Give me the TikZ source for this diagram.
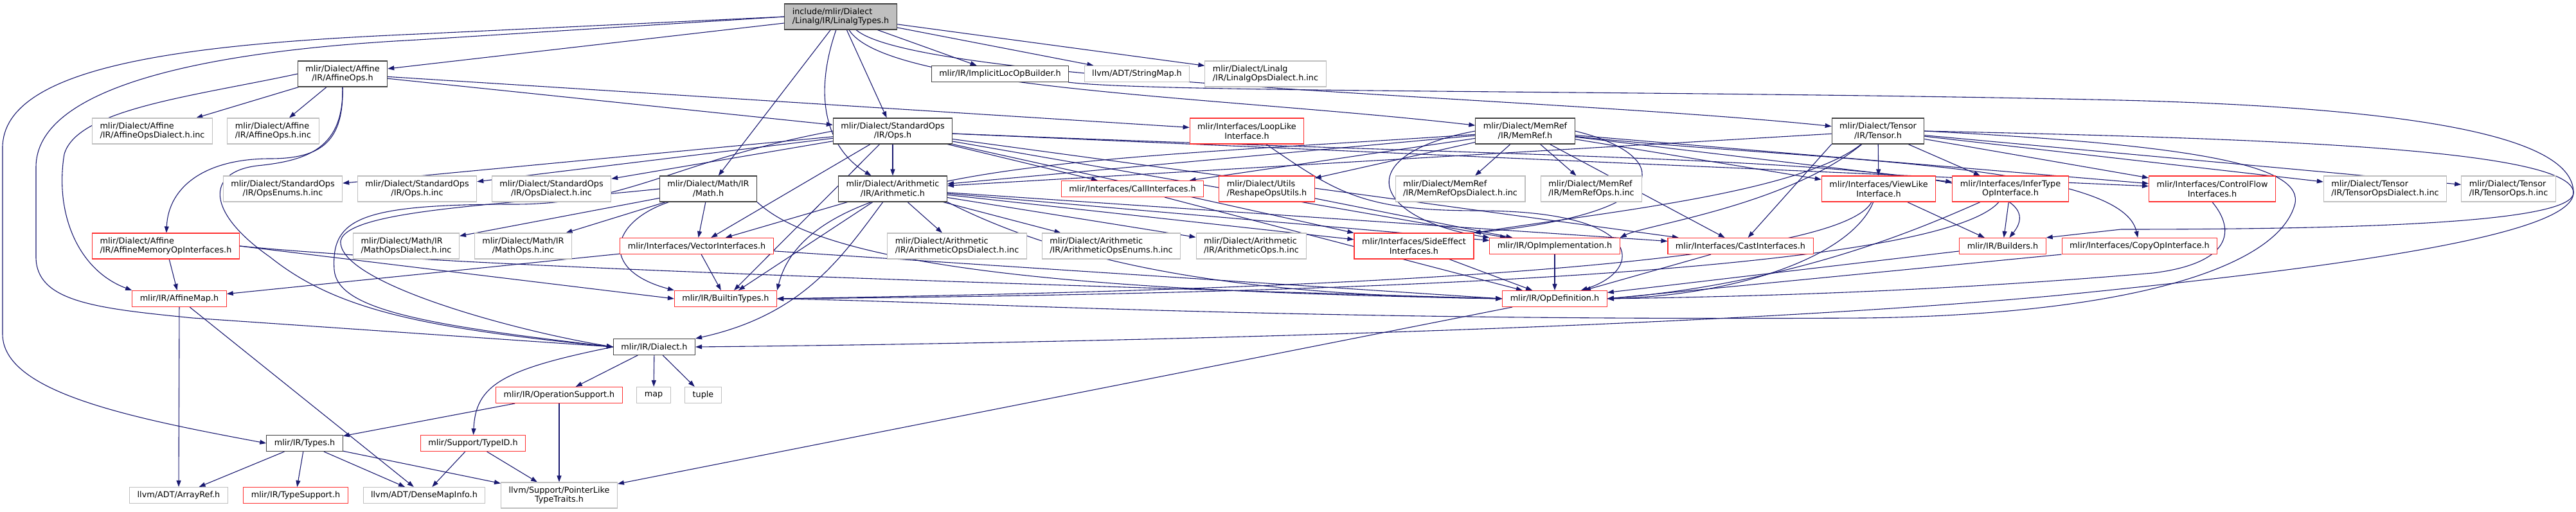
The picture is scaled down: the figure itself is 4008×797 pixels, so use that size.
\documentclass[tikz,border=0pt]{standalone}
\usepackage{fontspec}
\setmainfont{DejaVu Sans}
\usepackage{xcolor}
\usepackage{tikz}
\usetikzlibrary{arrows.meta}
\usetikzlibrary{backgrounds}
\definecolor{edgeblue}{HTML}{191970}
\definecolor{boxgray}{HTML}{BFBFBF}
\definecolor{boxred}{HTML}{FF3030}
\definecolor{boxdark}{HTML}{404040}

\begin{document}
\begin{tikzpicture}[x=1pt,y=-1pt,
  hdr/.style={rectangle,draw,fill=white,line width=1.1pt,align=center,
    inner xsep=12pt,inner ysep=2pt,minimum height=25pt,
    font=\fontsize{12.8pt}{14.7pt}\selectfont},
  twoline/.style={minimum height=40pt},
  lft/.style={align=left},
  hdrroot/.style={draw=boxdark,fill=boxgray},
  hdrdoc/.style={draw=boxdark},
  hdrext/.style={draw=boxgray},
  hdrred/.style={draw=boxred},
  dep/.style={draw=edgeblue,line width=1.1pt,-{Triangle[length=10pt,width=7pt]}}]
\useasboundingbox (0,0) rectangle (4008,797);
% the file itself
\node[hdr,hdrroot,twoline,lft] (root) at (1308,26) {include/mlir/Dialect\\/Linalg/IR/LinalgTypes.h};
% first level
\node[hdr,hdrdoc,twoline] (affops) at (533,115) {mlir/Dialect/Affine\\/IR/AffineOps.h};
\node[hdr,hdrdoc] (implicit) at (1556,115) {mlir/IR/ImplicitLocOpBuilder.h};
\node[hdr,hdrext] (strmap) at (1769,115) {llvm/ADT/StringMap.h};
\node[hdr,hdrext,twoline,lft] (linalgdia) at (1969,115) {mlir/Dialect/Linalg\\/IR/LinalgOpsDialect.h.inc};
\node[hdr,hdrext,twoline,lft] (affdiainc) at (237,204) {mlir/Dialect/Affine\\/IR/AffineOpsDialect.h.inc};
\node[hdr,hdrext,twoline,lft] (affopsinc) at (425,204) {mlir/Dialect/Affine\\/IR/AffineOps.h.inc};
\node[hdr,hdrdoc,twoline] (stdops) at (1389,204) {mlir/Dialect/StandardOps\\/IR/Ops.h};
\node[hdr,hdrred,twoline] (looplike) at (1940,204) {mlir/Interfaces/LoopLike\\Interface.h};
\node[hdr,hdrdoc,twoline] (memref) at (2373,204) {mlir/Dialect/MemRef\\/IR/MemRef.h};
\node[hdr,hdrdoc,twoline] (tensor) at (2922,204) {mlir/Dialect/Tensor\\/IR/Tensor.h};
% dialect includes
\node[hdr,hdrext,twoline] (opsenums) at (440,294) {mlir/Dialect/StandardOps\\/IR/OpsEnums.h.inc};
\node[hdr,hdrext,twoline] (opsinc) at (649,294) {mlir/Dialect/StandardOps\\/IR/Ops.h.inc};
\node[hdr,hdrext,twoline] (opsdialect) at (858,294) {mlir/Dialect/StandardOps\\/IR/OpsDialect.h.inc};
\node[hdr,hdrdoc,twoline] (math) at (1102,294) {mlir/Dialect/Math/IR\\/Math.h};
\node[hdr,hdrdoc,twoline] (arith) at (1389,294) {mlir/Dialect/Arithmetic\\/IR/Arithmetic.h};
\node[hdr,hdrred] (callif) at (1762,294) {mlir/Interfaces/CallInterfaces.h};
\node[hdr,hdrred,twoline,lft] (reshape) at (1971,294) {mlir/Dialect/Utils\\/ReshapeOpsUtils.h};
\node[hdr,hdrext,twoline,lft] (memrefdia) at (2272,294) {mlir/Dialect/MemRef\\/IR/MemRefOpsDialect.h.inc};
\node[hdr,hdrext,twoline,lft] (memrefops) at (2476,294) {mlir/Dialect/MemRef\\/IR/MemRefOps.h.inc};
\node[hdr,hdrred,twoline] (viewlike) at (2923,294) {mlir/Interfaces/ViewLike\\Interface.h};
\node[hdr,hdrred,twoline] (infertype) at (3128,294) {mlir/Interfaces/InferType\\OpInterface.h};
\node[hdr,hdrred,twoline] (ctrlflow) at (3442,294) {mlir/Interfaces/ControlFlow\\Interfaces.h};
\node[hdr,hdrext,twoline,lft] (tensordia) at (3711,294) {mlir/Dialect/Tensor\\/IR/TensorOpsDialect.h.inc};
\node[hdr,hdrext,twoline,lft] (tensorops) at (3903,294) {mlir/Dialect/Tensor\\/IR/TensorOps.h.inc};
% interfaces
\node[hdr,hdrred,twoline,lft] (affmem) at (258,383) {mlir/Dialect/Affine\\/IR/AffineMemoryOpInterfaces.h};
\node[hdr,hdrext,twoline,lft] (mathdia) at (632,383) {mlir/Dialect/Math/IR\\/MathOpsDialect.h.inc};
\node[hdr,hdrext,twoline] (mathops) at (814,383) {mlir/Dialect/Math/IR\\/MathOps.h.inc};
\node[hdr,hdrred] (vectorif) at (1084,383) {mlir/Interfaces/VectorInterfaces.h};
\node[hdr,hdrext,twoline,lft] (aritdia) at (1489,383) {mlir/Dialect/Arithmetic\\/IR/ArithmeticOpsDialect.h.inc};
\node[hdr,hdrext,twoline,lft] (aritenum) at (1729,383) {mlir/Dialect/Arithmetic\\/IR/ArithmeticOpsEnums.h.inc};
\node[hdr,hdrext,twoline,lft] (aritops) at (1947,383) {mlir/Dialect/Arithmetic\\/IR/ArithmeticOps.h.inc};
\node[hdr,hdrred,twoline] (sideeff) at (2200,383) {mlir/Interfaces/SideEffect\\Interfaces.h};
\node[hdr,hdrred] (opimpl) at (2419,383) {mlir/IR/OpImplementation.h};
\node[hdr,hdrred] (castif) at (2708,383) {mlir/Interfaces/CastInterfaces.h};
\node[hdr,hdrred] (builders) at (3116,383) {mlir/IR/Builders.h};
\node[hdr,hdrred] (copyop) at (3329,383) {mlir/Interfaces/CopyOpInterface.h};
% core IR
\node[hdr,hdrred] (affmap) at (279,465) {mlir/IR/AffineMap.h};
\node[hdr,hdrred] (builtin) at (1129,465) {mlir/IR/BuiltinTypes.h};
\node[hdr,hdrred] (opdef) at (2419,465) {mlir/IR/OpDefinition.h};
\node[hdr,hdrdoc] (dialect) at (1018,540) {mlir/IR/Dialect.h};
\node[hdr,hdrred] (opsupport) at (870,615) {mlir/IR/OperationSupport.h};
\node[hdr,hdrext] (map) at (1017,615) {map};
\node[hdr,hdrext] (tuple) at (1094,615) {tuple};
\node[hdr,hdrdoc] (types) at (474,690) {mlir/IR/Types.h};
\node[hdr,hdrred] (typeid) at (736,690) {mlir/Support/TypeID.h};
\node[hdr,hdrext] (arrayref) at (278,771) {llvm/ADT/ArrayRef.h};
\node[hdr,hdrred] (typesupport) at (460,771) {mlir/IR/TypeSupport.h};
\node[hdr,hdrext] (densemap) at (660,771) {llvm/ADT/DenseMapInfo.h};
\node[hdr,hdrext,twoline] (ptrlike) at (870,771) {llvm/Support/PointerLike\\TypeTraits.h};

\begin{scope}[on background layer]
% from the file itself
\draw[dep] (root) -- (affops);
\draw[dep] (root) -- (implicit);
\draw[dep] (root) -- (strmap);
\draw[dep] (root) -- (linalgdia);
\draw[dep] (root) -- (stdops);
\draw[dep] (root) -- (math);
\draw[dep] (root) .. controls (1265,150) and (1285,230) .. (arith);
\draw[dep] (root) .. controls (1380,140) and (1900,150) .. (memref);
\draw[dep] (root) .. controls (1430,130) and (2400,150) .. (tensor);
\draw[dep] (root.west) -- (650,53) .. controls (300,68) and (4,100) .. (4,230) -- (4,520) .. controls (4,610) and (200,650) .. (types.west);
\draw[dep] (root.west) -- (650,62) .. controls (300,80) and (56,140) .. (56,260) -- (56,400) .. controls (56,470) and (150,480) .. (300,495) -- (dialect.west);
% affine
\draw[dep] (affops) -- (affdiainc);
\draw[dep] (affops) -- (affopsinc);
\draw[dep] (affops) -- (stdops);
\draw[dep] (affops) -- (looplike);
\draw[dep] (affops.south) .. controls (535,220) and (500,247) .. (420,247) .. controls (320,247) and (262,290) .. (affmem);
\draw[dep] (affops.west) .. controls (300,150) and (120,170) .. (100,240) .. controls (85,330) and (120,420) .. (affmap.north west);
\draw[dep] (affops.south) .. controls (535,230) and (480,250) .. (400,258) .. controls (320,268) and (320,330) .. (420,400) .. controls (520,480) and (650,510) .. (dialect.west);
\draw[dep] (implicit) .. controls (1800,145) and (2600,140) .. (3300,156) .. controls (3850,170) and (4004,230) .. (4004,300) .. controls (4004,345) and (3700,357) .. (3300,357) -- (builders.north east);
% standard ops
\draw[dep] (stdops) -- (opsenums);
\draw[dep] (stdops) -- (opsinc);
\draw[dep] (stdops) -- (opsdialect);
\draw[dep] (stdops) -- (arith);
\draw[dep] (stdops) -- (callif);
\draw[dep] (stdops) -- (vectorif);
\draw[dep] (stdops) -- (ctrlflow);
\draw[dep] (stdops) -- (castif);
\draw[dep] (stdops) -- (sideeff);
\draw[dep] (stdops) -- (opimpl);
\draw[dep] (stdops) -- (builtin);
\draw[dep] (stdops) .. controls (2600,255) and (3230,240) .. (builders);
\draw[dep] (stdops.west) .. controls (1050,250) and (980,318) .. (800,318) .. controls (560,318) and (515,340) .. (520,420) .. controls (525,480) and (650,505) .. (dialect.west);
\draw[dep] (looplike) .. controls (2080,300) and (2120,328) .. (2300,328) .. controls (2560,328) and (2560,420) .. (opdef);
% memref
\draw[dep] (memref) -- (memrefdia);
\draw[dep] (memref) -- (memrefops);
\draw[dep] (memref) -- (reshape);
\draw[dep] (memref) -- (arith);
\draw[dep] (memref) -- (callif);
\draw[dep] (memref) -- (castif);
\draw[dep] (memref) .. controls (2800,250) and (3300,250) .. (copyop);
\draw[dep] (memref) -- (viewlike);
\draw[dep] (memref) -- (infertype);
\draw[dep] (memref) -- (ctrlflow);
\draw[dep] (memref.east) .. controls (2600,240) and (2620,330) .. (sideeff.north east);
\draw[dep] (memref.west) .. controls (2100,240) and (2130,340) .. (opimpl.north west);
\draw[dep] (memref) .. controls (1700,250) and (1260,250) .. (builtin.north east);
% tensor
\draw[dep] (tensor) -- (tensordia);
\draw[dep] (tensor) -- (tensorops);
\draw[dep] (tensor) -- (arith);
\draw[dep] (tensor.south west) -- (castif);
\draw[dep] (tensor) -- (viewlike);
\draw[dep] (tensor) -- (infertype);
\draw[dep] (tensor) -- (ctrlflow);
\draw[dep] (tensor) .. controls (2800,300) and (2500,330) .. (sideeff.north east);
\draw[dep] (tensor) .. controls (2780,320) and (2560,350) .. (opimpl.north east);
\draw[dep] (tensor.east) .. controls (3500,215) and (4004,230) .. (4004,300) .. controls (4004,370) and (3600,420) .. (3200,460) .. controls (2600,515) and (1600,535) .. (dialect.east);
\draw[dep] (tensor.east) .. controls (3400,225) and (3590,255) .. (3570,320) .. controls (3540,420) and (3300,490) .. (2900,495) .. controls (2000,500) and (1500,470) .. (builtin.east);
% math and arithmetic
\draw[dep] (math) -- (mathdia);
\draw[dep] (math) -- (mathops);
\draw[dep] (math) -- (vectorif);
\draw[dep] (math.south east) .. controls (1300,430) and (1800,455) .. (opdef.west);
\draw[dep] (math) .. controls (950,345) and (930,420) .. (builtin.north west);
\draw[dep] (math.west) .. controls (800,318) and (540,325) .. (530,375) .. controls (525,440) and (800,515) .. (dialect.west);
\draw[dep] (arith) -- (aritdia);
\draw[dep] (arith) -- (aritenum);
\draw[dep] (arith) -- (aritops);
\draw[dep] (arith) -- (vectorif);
\draw[dep] (arith) -- (sideeff);
\draw[dep] (arith) -- (opimpl);
\draw[dep] (arith) -- (castif);
\draw[dep] (arith) -- (builtin);
\draw[dep] (arith.south east) .. controls (1700,430) and (2000,460) .. (opdef.west);
\draw[dep] (arith) .. controls (1310,400) and (1250,490) .. (dialect.north east);
% interfaces
\draw[dep] (callif) -- (opdef);
\draw[dep] (reshape) -- (opimpl);
\draw[dep] (viewlike) -- (builders);
\draw[dep] (viewlike) .. controls (2880,400) and (2700,460) .. (opdef.east);
\draw[dep] (viewlike) .. controls (2850,430) and (1800,455) .. (builtin.east);
\draw[dep] (infertype) -- (builders);
\draw[dep] (infertype) .. controls (3000,350) and (2800,440) .. (opdef.east);
\draw[dep] (infertype) .. controls (3000,440) and (1800,460) .. (builtin.east);
\draw[dep] (ctrlflow.south) .. controls (3480,360) and (3470,410) .. (3350,425) .. controls (3000,455) and (2700,462) .. (opdef.east);
\draw[dep] (affmem) -- (affmap);
\draw[dep] (affmem.east) -- (builtin.west);
\draw[dep] (affmem.east) .. controls (700,415) and (1500,440) .. (opdef.west);
\draw[dep] (vectorif) -- (affmap);
\draw[dep] (vectorif) -- (builtin);
\draw[dep] (vectorif) -- (opdef.west);
\draw[dep] (sideeff) -- (opdef);
\draw[dep] (opimpl) -- (opdef);
\draw[dep] (castif) -- (opdef);
\draw[dep] (builders) -- (opdef);
\draw[dep] (copyop.south west) -- (opdef.east);
% core IR
\draw[dep] (affmap) -- (arrayref);
\draw[dep] (affmap) -- (densemap);
\draw[dep] (opdef) -- (ptrlike);
\draw[dep] (dialect) -- (opsupport);
\draw[dep] (dialect) -- (map);
\draw[dep] (dialect) -- (tuple);
\draw[dep] (dialect.west) .. controls (780,575) and (740,600) .. (typeid);
\draw[dep] (opsupport) -- (types);
\draw[dep] (opsupport) -- (ptrlike);
\draw[dep] (types) -- (arrayref);
\draw[dep] (types) -- (typesupport);
\draw[dep] (types) -- (densemap);
\draw[dep] (types) -- (ptrlike);
\draw[dep] (typeid) -- (densemap);
\draw[dep] (typeid) -- (ptrlike);
\end{scope}
\end{tikzpicture}
\end{document}
